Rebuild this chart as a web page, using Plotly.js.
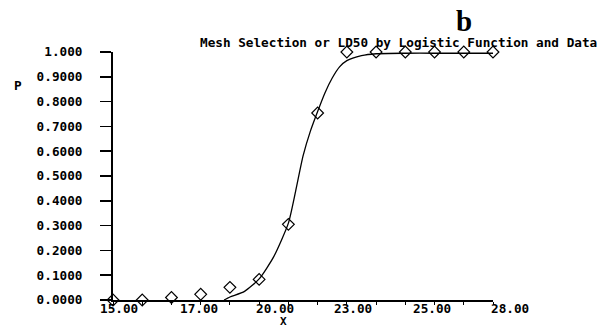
<!DOCTYPE html>
<html>
<head>
<meta charset="utf-8">
<script src="https://cdn.plot.ly/plotly-3.0.1.min.js"></script>
<style>html,body{margin:0;padding:0;background:#fff;}#chart{width:606px;height:329px;}</style>
</head>
<body>
<div id="chart"></div>
<script>
// Observed data points (X, P)
const dataX = [15, 16, 17, 18, 19, 20, 21, 22, 23, 24, 25, 26, 27, 28];
const dataP = [0.0, 0.0, 0.01, 0.023, 0.051, 0.083, 0.305, 0.754, 1.0, 1.0, 1.0, 1.0, 1.0, 1.0];

// Fitted logistic curve
const curveX = [18.8, 19.0, 19.5, 20.0, 20.5, 21.0, 21.25, 21.5, 21.75, 22.0, 22.25, 22.5, 22.75, 23.0, 23.5, 24.0, 25.0, 26.0, 27.0, 28.0];
const curveP = [0.0, 0.012, 0.035, 0.085, 0.175, 0.31, 0.44, 0.58, 0.68, 0.76, 0.835, 0.895, 0.94, 0.965, 0.985, 0.993, 0.995, 0.995, 0.995, 0.995];

// Axis tick marks and labels
const xRange = [15, 28];
const xTickVals = [15, 16, 17, 18, 19, 20, 21, 22, 23, 24, 25, 26, 27, 28];
const xLabelPos = [15.2, 17.94, 20.54, 23.21, 25.91, 28.58];
const xLabelText = ["15.00", "17.00", "20.00", "23.00", "25.00", "28.00"];
const yTickVals = [0, 0.1, 0.2, 0.3, 0.4, 0.5, 0.6, 0.7, 0.8, 0.9, 1.0];
const yTickText = ["0.0000", "0.1000", "0.2000", "0.3000", "0.4000", "0.5000", "0.6000", "0.7000", "0.8000", "0.9000", "1.000"];

const mono = "DejaVu Sans Mono, Liberation Mono, monospace";
const W = 606, H = 329;
const L = 113, R = 113, T = 51.7, B = 29;
const pw = W - L - R, ph = H - T - B;
const px = x => (x - L) / pw;          // page pixel -> paper x
const py = y => (H - y - B) / ph;      // page pixel -> paper y

const traces = [
  {
    x: curveX, y: curveP, type: "scatter", mode: "lines",
    line: {color: "#000", width: 1.3, shape: "spline", smoothing: 0.6},
    cliponaxis: false, hoverinfo: "skip"
  },
  {
    x: dataX, y: dataP, type: "scatter", mode: "markers",
    marker: {symbol: "diamond-open", size: 9, color: "#000", line: {width: 1.2, color: "#000"}},
    cliponaxis: false
  }
];

const annotations = xLabelPos.map((v, i) => ({
  // position along the x axis, as a fraction of the axis range
  x: (v - xRange[0]) / (xRange[1] - xRange[0]), xref: "paper",
  y: 0, yref: "paper", yanchor: "top", xanchor: "center",
  yshift: 0, borderpad: 0, text: xLabelText[i], showarrow: false,
  font: {family: mono, size: 12.7, color: "#000", weight: "bold"}
}));
annotations.push({
  x: px(464), xref: "paper", y: py(21), yref: "paper", text: "<b>b</b>",
  showarrow: false, xanchor: "center", yanchor: "middle",
  font: {family: "Liberation Serif, DejaVu Serif, serif", size: 29, color: "#000"}
});
annotations.push({
  x: px(18), xref: "paper", y: py(85), yref: "paper", text: "P",
  showarrow: false, xanchor: "center", yanchor: "middle",
  font: {family: mono, size: 12.7, color: "#000", weight: "bold"}
});
annotations.push({
  x: px(283), xref: "paper", y: py(329.5), yref: "paper", text: "X",
  showarrow: false, xanchor: "center", yanchor: "bottom", borderpad: 0,
  font: {family: mono, size: 11, color: "#000", weight: "bold"}
});

const layout = {
  width: W, height: H,
  margin: {l: L, r: R, t: T, b: B, pad: 0},
  paper_bgcolor: "#fff", plot_bgcolor: "#fff",
  showlegend: false,
  title: {
    text: "Mesh Selection or LD50 by Logistic Function and Data",
    x: 200 / W, xanchor: "left", xref: "container",
    y: 1 - 43 / H, yanchor: "middle", yref: "container",
    font: {family: mono, size: 12.7, color: "#000", weight: "bold"}
  },
  xaxis: {
    range: xRange, tickmode: "array", tickvals: xTickVals, showticklabels: false,
    ticks: "outside", ticklen: 3, tickwidth: 1, tickcolor: "#000",
    showline: true, linecolor: "#000", linewidth: 2,
    showgrid: false, zeroline: false, fixedrange: true
  },
  yaxis: {
    range: [0, 1], tickmode: "array", tickvals: yTickVals, ticktext: yTickText,
    ticks: "outside", ticklen: 11, tickwidth: 1.5, tickcolor: "#000",
    ticklabelstandoff: 15,
    tickfont: {family: mono, size: 12.7, color: "#000", weight: "bold"},
    showline: true, linecolor: "#000", linewidth: 2,
    showgrid: false, zeroline: false, fixedrange: true
  },
  annotations: annotations
};

Plotly.newPlot("chart", traces, layout, {displayModeBar: false, staticPlot: true});
</script>
</body>
</html>
